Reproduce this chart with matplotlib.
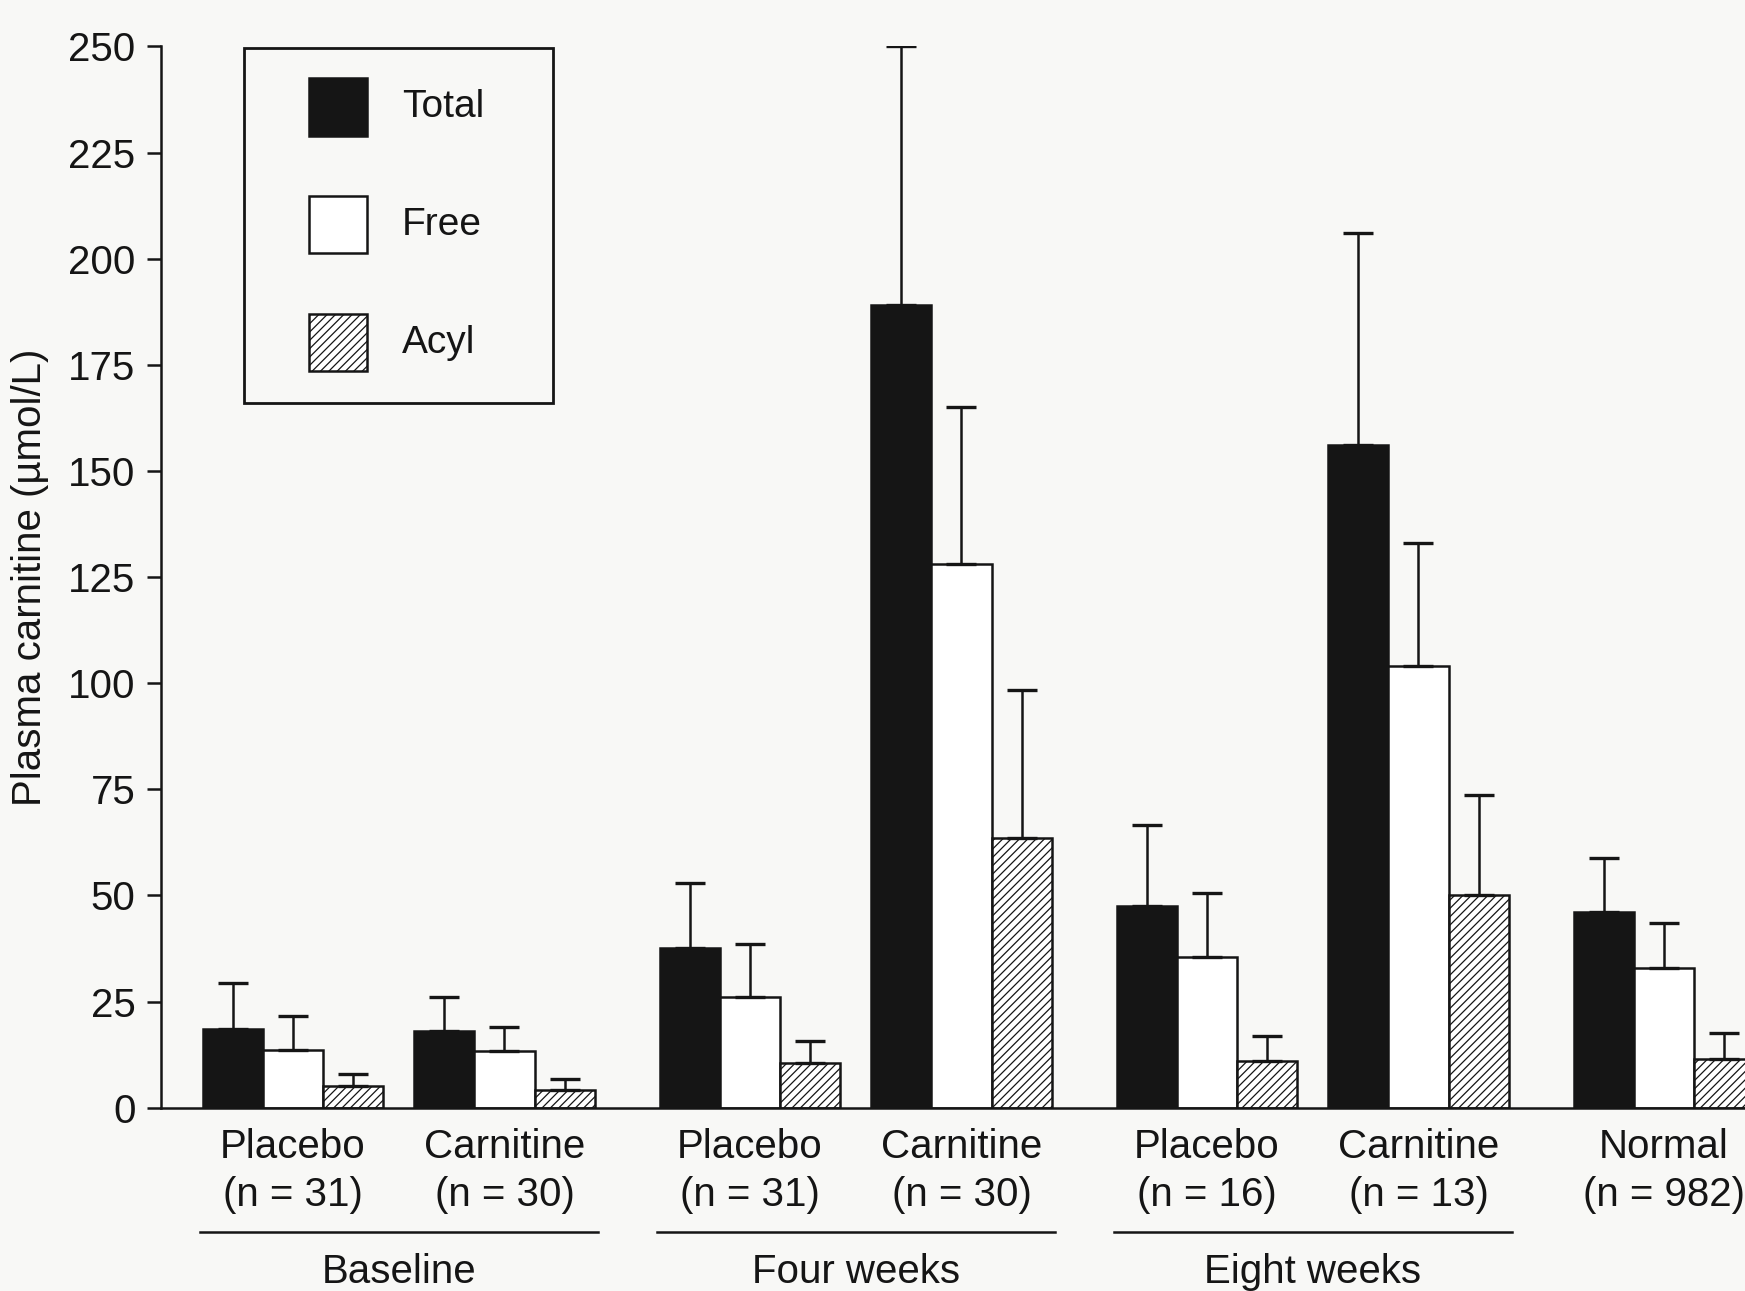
import numpy as np
import matplotlib.pyplot as plt
from matplotlib.patches import Rectangle

plt.rcParams['font.family'] = ['Liberation Sans', 'DejaVu Sans']
plt.rcParams['hatch.linewidth'] = 0.9

# data (plasma carnitine, umol/L, mean and +SD)
groups = ['Placebo', 'Carnitine', 'Placebo', 'Carnitine', 'Placebo', 'Carnitine', 'Normal']
n_labels = ['(n = 31)', '(n = 30)', '(n = 31)', '(n = 30)', '(n = 16)', '(n = 13)', '(n = 982)']
periods = ['Baseline', 'Four weeks', 'Eight weeks']

total = [18.6, 18.0, 37.5, 189, 47.5, 156, 46.0]
total_sd = [10.8, 8.0, 15.5, 61, 19, 50, 12.8]
free = [13.6, 13.4, 26, 128, 35.5, 104, 33.0]
free_sd = [7.9, 5.6, 12.5, 37, 15.0, 29, 10.4]
acyl = [5.0, 4.2, 10.5, 63.5, 11.0, 50.0, 11.5]
acyl_sd = [3.0, 2.6, 5.2, 35, 5.8, 23.6, 6]

ink = '#151515'
bg = '#f8f8f6'

# group centres: two groups per period, then the normal group
period_idx = np.array([0, 0, 1, 1, 2, 2, 3])
sub_idx = np.array([0, 1, 0, 1, 0, 1, 0])
centers = 7.6 * period_idx + 3.52 * sub_idx
w = 1.0

fig = plt.figure(figsize=(17.45, 12.91), dpi=100, facecolor=bg)
ax = fig.add_axes([0.092, 0.142, 0.908, 0.822])
ax.set_facecolor(bg)

series = [
    (total, total_sd, -w, dict(color=ink)),
    (free, free_sd, 0, dict(color='white')),
    (acyl, acyl_sd, w, dict(color='white', hatch='////')),
]
for vals, sd, off, style in series:
    x = centers + off
    ax.bar(x, vals, width=w, edgecolor=ink, linewidth=1.8, zorder=2, **style)
    ax.errorbar(x, vals, yerr=[np.zeros(len(vals)), sd], fmt='none', ecolor=ink,
                elinewidth=1.8, capsize=11, capthick=2.4, zorder=3)

ax.set_xlim(-2.2, 24.15)
ax.set_ylim(0, 250)
ax.set_yticks(np.arange(0, 251, 25))
ax.set_xticks([])
ax.tick_params(axis='y', length=10, width=1.8, pad=8, labelsize=29, colors=ink)
for s in ['top', 'right']:
    ax.spines[s].set_visible(False)
for s in ['left', 'bottom']:
    ax.spines[s].set_linewidth(1.8)
    ax.spines[s].set_color(ink)
ax.set_ylabel('Plasma carnitine (µmol/L)', fontsize=29, color=ink, labelpad=14)

# category labels under the axis
tr = ax.get_xaxis_transform()
for c, g, n in zip(centers, groups, n_labels):
    ax.text(c, -0.037, g, transform=tr, ha='center', va='center', fontsize=29, color=ink)
    ax.text(c, -0.082, n, transform=tr, ha='center', va='center', fontsize=29, color=ink)

for p, name in enumerate(periods):
    c0 = centers[2 * p]
    c1 = centers[2 * p + 1]
    ax.plot([c0 - 1.55, c1 + 1.55], [-0.117, -0.117], transform=tr, color=ink,
            lw=1.8, clip_on=False)
    ax.text((c0 + c1) / 2, -0.155, name, transform=tr, ha='center', va='center',
            fontsize=29, color=ink)

# legend box
at = ax.transAxes
ax.add_patch(Rectangle((0.0527, 0.664), 0.1953, 0.335, transform=at, fill=False,
                       edgecolor=ink, lw=2.0, zorder=4))
leg_items = [('Total', dict(facecolor=ink)), ('Free', dict(facecolor='white')),
             ('Acyl', dict(facecolor='white', hatch='////'))]
for i, (lab, style) in enumerate(leg_items):
    yc = 0.943 - 0.111 * i
    ax.add_patch(Rectangle((0.0935, yc - 0.027), 0.0365, 0.054, transform=at,
                           edgecolor=ink, lw=1.8, zorder=4, **style))
    ax.text(0.1525, yc, lab, transform=at, ha='left', va='center', fontsize=28, color=ink)

fig.savefig('out.png', dpi=100, facecolor=bg)
